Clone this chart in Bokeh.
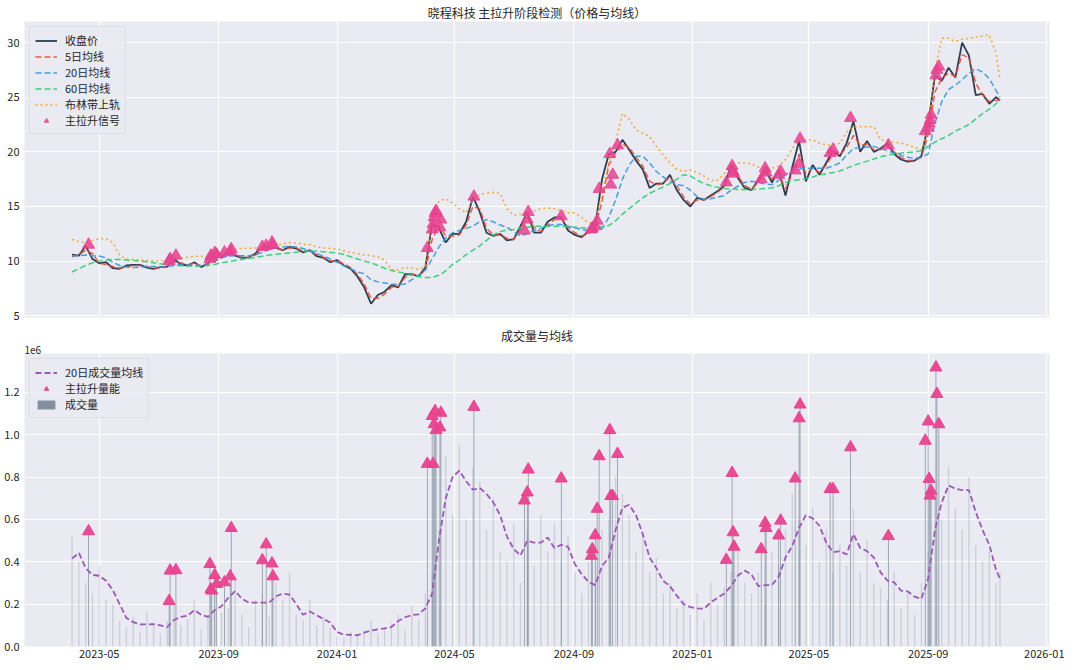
import pandas as pd
from bokeh.plotting import figure
from bokeh.models import (Range1d, FixedTicker, DatetimeTickFormatter, NumeralTickFormatter,
                          Legend, LegendItem, Title)
from bokeh.layouts import column
from bokeh.embed import file_html
from bokeh.resources import INLINE

# ---------------- data (weekly samples) ----------------
week_start = "2023-04-03"
n_weeks = 137
last_day = "2025-11-14"

close = [10.6, 10.5, 11.4, 10.2, 9.8, 9.9, 9.35, 9.3, 9.6, 9.65,
         9.65, 9.4, 9.3, 9.45, 9.5, 10.2, 9.7, 9.6, 9.9, 9.45,
         9.8, 10.5, 10.4, 10.8, 10.5, 10.3, 10.35, 10.7, 11.3, 11.2,
         11.2, 11.0, 11.3, 11.15, 10.8, 11.0, 10.45, 10.3, 9.9, 10.1,
         9.6, 9.3, 8.6, 7.6, 6.1, 6.9, 7.2, 7.8, 7.6, 8.8,
         8.8, 8.6, 9.4, 13.5, 13.0, 11.7, 12.5, 12.5, 13.6, 15.9,
         14.5, 12.6, 12.3, 12.5, 11.9, 12.0, 13.2, 14.5, 12.6, 12.6,
         13.6, 14.0, 14.0, 12.8, 12.4, 12.2, 12.7, 13.2, 17.5, 19.8,
         20.0, 21.1, 20.2, 19.2, 18.4, 16.7, 17.1, 17.1, 17.9, 16.5,
         15.6, 15.0, 15.8, 15.6, 16.0, 16.4, 16.9, 18.8, 17.6, 16.7,
         16.5, 17.4, 18.4, 17.2, 18.3, 16.0, 18.6, 21.0, 17.3, 18.8,
         17.9, 19.0, 20.1, 19.6, 20.8, 22.8, 20.0, 21.0, 20.0, 20.3,
         20.8, 19.8, 19.3, 19.1, 19.2, 19.6, 22.5, 27.0, 26.5, 27.7,
         26.8, 30.0, 28.8, 25.2, 25.3, 24.4, 25.0, 24.7]

ma5 = [10.4, 10.6, 11.0, 10.7, 9.8, 9.7, 9.5, 9.35, 9.45, 9.6,
       9.6, 9.5, 9.35, 9.4, 9.45, 9.9, 9.85, 9.65, 9.8, 9.55,
       9.7, 10.3, 10.4, 10.65, 10.6, 10.35, 10.3, 10.55, 11.1, 11.2,
       11.2, 11.05, 11.2, 11.2, 10.9, 10.95, 10.6, 10.35, 10.0, 10.05,
       9.75, 9.4, 8.8, 7.9, 6.6, 6.6, 7.0, 7.6, 7.7, 8.5,
       8.8, 8.7, 9.1, 12.0, 13.3, 12.3, 12.3, 12.4, 13.3, 15.0,
       14.8, 13.0, 12.4, 12.4, 12.1, 12.0, 12.9, 14.0, 13.1, 12.7,
       13.3, 13.8, 13.9, 13.1, 12.6, 12.3, 12.5, 13.0, 15.5, 18.8,
       19.9, 20.7, 20.4, 19.5, 18.7, 17.3, 17.0, 17.1, 17.7, 16.9,
       15.9, 15.2, 15.6, 15.6, 15.9, 16.3, 16.8, 18.2, 17.8, 16.9,
       16.6, 17.2, 18.1, 17.5, 18.0, 16.6, 18.0, 19.8, 18.0, 18.5,
       18.1, 18.8, 19.8, 19.7, 20.4, 21.5, 20.6, 20.7, 20.2, 20.2,
       20.6, 20.0, 19.5, 19.2, 19.2, 19.5, 21.6, 25.5, 26.7, 27.2,
       26.9, 28.9, 28.6, 26.3, 25.2, 24.6, 24.7, 24.8]

ma20 = [10.46, 10.5, 10.55, 10.5, 10.46, 10.3, 9.9, 9.6, 9.45, 9.41,
        9.45, 9.5, 9.5, 9.45, 9.5, 9.6, 9.7, 9.65, 9.6, 9.6,
        9.8, 10.0, 10.3, 10.46, 10.5, 10.5, 10.5, 10.6, 10.8, 11.05,
        11.2, 11.3, 11.35, 11.3, 11.15, 10.95, 10.7, 10.45, 10.2, 9.9,
        9.6, 9.3, 9.0, 8.85, 8.3, 8.1, 8.0, 7.9, 7.85, 7.9,
        8.3, 8.7, 9.2, 10.2, 11.3, 12.1, 12.6, 12.8, 13.0, 13.2,
        13.6, 13.8, 13.6, 13.3, 13.1, 12.7, 12.3, 12.5, 12.8, 13.0,
        13.25, 13.35, 13.35, 13.2, 13.05, 12.9, 12.75, 12.75, 12.95, 14.0,
        15.6, 17.5, 18.8, 19.6, 19.6, 19.0, 18.2, 17.7, 17.3, 17.0,
        16.9, 16.5, 15.9, 15.65, 15.7, 15.85, 16.0, 16.5, 16.85, 17.2,
        17.3, 17.2, 17.05, 17.0, 17.4, 17.9, 18.3, 18.4, 18.5, 18.5,
        18.5, 18.5, 18.7, 19.0, 19.7, 20.3, 20.4, 20.45, 20.5, 20.3,
        20.1, 19.9, 19.7, 19.5, 19.4, 19.5, 19.8, 22.6, 24.6, 25.7,
        26.1, 26.6, 27.2, 27.6, 27.3, 26.7, 25.6, 25.0]

ma60 = [9.0, 9.3, 9.6, 9.85, 10.0, 10.1, 10.15, 10.15, 10.1, 10.05,
        10.0, 9.95, 9.85, 9.75, 9.68, 9.62, 9.58, 9.55, 9.52, 9.55,
        9.6, 9.7, 9.85, 9.95, 10.05, 10.15, 10.25, 10.35, 10.45, 10.55,
        10.62, 10.68, 10.75, 10.82, 10.9, 10.92, 10.9, 10.85, 10.8, 10.75,
        10.6, 10.4, 10.2, 10.0, 9.85, 9.6, 9.35, 9.15, 9.0, 8.9,
        8.75, 8.6, 8.5, 8.5, 8.7, 9.1, 9.7, 10.1, 10.6, 11.0,
        11.4, 11.9, 12.4, 12.7, 12.85, 12.9, 13.0, 13.1, 13.2, 13.2,
        13.2, 13.2, 13.2, 13.15, 13.1, 13.05, 13.0, 13.05, 13.15, 13.25,
        13.7, 14.3, 14.8, 15.3, 15.8, 16.2, 16.5, 16.8, 17.1, 17.5,
        17.9, 17.8, 17.4, 17.1, 16.9, 16.75, 16.65, 16.6, 16.55, 16.55,
        16.55, 16.6, 16.65, 16.7, 16.9, 17.2, 17.35, 17.45, 17.55, 17.7,
        17.9, 18.0, 18.1, 18.25, 18.5, 18.75, 18.95, 19.15, 19.35, 19.55,
        19.7, 19.8, 19.88, 19.95, 20.0, 20.1, 20.5, 20.9, 21.2, 21.5,
        21.9, 22.2, 22.5, 23.0, 23.5, 23.9, 24.4, 24.75]

boll_upper = [11.98, 11.8, 11.7, 11.9, 12.05, 12.05, 11.7, 10.5, 10.2, 10.16,
              10.1, 10.05, 10.0, 10.0, 10.0, 10.1, 10.25, 10.35, 10.45, 10.45,
              10.35, 10.5, 10.7, 10.85, 11.1, 11.17, 11.17, 11.2, 11.2, 11.25,
              11.4, 11.6, 11.68, 11.65, 11.55, 11.5, 11.3, 11.2, 11.17, 11.1,
              10.95, 10.8, 10.7, 10.56, 10.5, 10.4, 10.1, 9.2, 9.2, 9.4,
              9.35, 9.25, 9.5, 13.8, 15.5, 15.7, 15.33, 14.8, 14.4, 15.6,
              16.1, 16.2, 16.3, 16.2, 14.8, 14.2, 14.3, 14.56, 14.6, 14.8,
              14.87, 14.8, 14.6, 14.45, 14.4, 14.0, 13.5, 13.6, 16.2, 19.0,
              20.9, 23.5, 23.0, 22.0, 21.7, 21.4, 20.5, 19.7, 19.0, 18.4,
              18.2, 18.35, 18.1, 17.8, 17.35, 17.4, 18.0, 18.97, 19.0, 18.97,
              18.9, 18.6, 18.5, 18.5, 18.7, 19.3, 20.3, 21.1, 21.1, 21.1,
              20.8, 20.64, 20.64, 20.8, 21.8, 22.3, 22.3, 22.3, 22.3, 21.1,
              21.0, 20.9, 20.8, 20.64, 20.4, 20.2, 22.0, 27.5, 30.4, 30.4,
              30.1, 30.3, 30.4, 30.5, 30.6, 30.7, 29.0, 26.6]

# volume in units of 1e6 shares
volume = [0.52, 0.40, 0.30, 0.25, 0.38, 0.22, 0.20, 0.12, 0.09, 0.14,
          0.07, 0.16, 0.10, 0.06, 0.12, 0.20, 0.10, 0.13, 0.22, 0.08,
          0.15, 0.25, 0.16, 0.18, 0.33, 0.15, 0.09, 0.22, 0.25, 0.14,
          0.30, 0.22, 0.35, 0.15, 0.12, 0.22, 0.10, 0.14, 0.09, 0.05,
          0.04, 0.07, 0.05, 0.08, 0.12, 0.06, 0.09, 0.11, 0.15, 0.08,
          0.19, 0.13, 0.25, 0.35, 0.55, 0.90, 0.62, 0.95, 0.60, 0.85,
          0.78, 0.55, 0.70, 0.45, 0.40, 0.58, 0.30, 0.55, 0.38, 0.62,
          0.45, 0.58, 0.40, 0.52, 0.35, 0.25, 0.40, 0.30, 0.55, 0.60,
          0.80, 0.72, 0.62, 0.45, 0.52, 0.35, 0.42, 0.25, 0.30, 0.18,
          0.22, 0.15, 0.25, 0.12, 0.30, 0.20, 0.28, 0.35, 0.45, 0.30,
          0.25, 0.35, 0.20, 0.45, 0.38, 0.55, 0.72, 0.60, 0.48, 0.65,
          0.40, 0.55, 0.35, 0.48, 0.38, 0.65, 0.35, 0.50, 0.30, 0.28,
          0.22, 0.35, 0.18, 0.25, 0.15, 0.30, 0.45, 0.70, 0.60, 0.85,
          0.65, 0.55, 0.80, 0.48, 0.40, 0.45, 0.30, 0.35]

vol_ma20 = [0.415, 0.442, 0.37, 0.338, 0.334, 0.31, 0.266, 0.2, 0.135, 0.115,
            0.104, 0.104, 0.106, 0.1, 0.091, 0.125, 0.14, 0.145, 0.172, 0.15,
            0.14, 0.172, 0.19, 0.23, 0.262, 0.225, 0.207, 0.207, 0.207, 0.207,
            0.237, 0.249, 0.245, 0.2, 0.15, 0.165, 0.147, 0.13, 0.113, 0.068,
            0.056, 0.055, 0.053, 0.065, 0.075, 0.081, 0.086, 0.092, 0.12, 0.138,
            0.148, 0.152, 0.18, 0.25, 0.5, 0.7, 0.8, 0.83, 0.78, 0.74,
            0.748, 0.72, 0.68, 0.62, 0.52, 0.46, 0.43, 0.5, 0.49, 0.49,
            0.515, 0.465, 0.48, 0.47, 0.39, 0.342, 0.305, 0.29, 0.38, 0.42,
            0.55, 0.655, 0.669, 0.62, 0.53, 0.42, 0.37, 0.31, 0.285, 0.24,
            0.2, 0.186, 0.18, 0.178, 0.208, 0.23, 0.25, 0.285, 0.335, 0.358,
            0.34, 0.285, 0.29, 0.29, 0.33, 0.42, 0.475, 0.56, 0.62, 0.605,
            0.57, 0.49, 0.445, 0.45, 0.435, 0.53, 0.465, 0.45, 0.42, 0.35,
            0.311, 0.303, 0.264, 0.26, 0.235, 0.225, 0.32, 0.55, 0.68, 0.76,
            0.745, 0.738, 0.738, 0.635, 0.55, 0.48, 0.36, 0.32]

signal_dates = ["2023-04-20", "2023-07-12", "2023-07-13", "2023-07-19",
                "2023-08-23", "2023-08-24", "2023-08-25", "2023-08-28", "2023-08-30",
                "2023-09-07", "2023-09-13", "2023-09-14",
                "2023-10-16", "2023-10-20", "2023-10-26", "2023-10-27",
                "2024-04-03", "2024-04-08", "2024-04-09", "2024-04-10", "2024-04-11",
                "2024-04-12", "2024-04-16", "2024-04-17",
                "2024-05-21",
                "2024-07-12", "2024-07-15", "2024-07-16",
                "2024-08-19",
                "2024-09-19", "2024-09-20", "2024-09-23", "2024-09-25", "2024-09-27",
                "2024-10-08", "2024-10-09", "2024-10-11", "2024-10-16",
                "2025-02-05", "2025-02-11", "2025-02-12", "2025-02-13",
                "2025-03-13", "2025-03-17", "2025-03-18", "2025-03-31", "2025-04-02",
                "2025-04-17", "2025-04-21", "2025-04-22",
                "2025-05-23", "2025-05-26", "2025-06-13", "2025-07-22",
                "2025-08-29", "2025-09-01", "2025-09-02", "2025-09-03", "2025-09-04",
                "2025-09-09", "2025-09-10", "2025-09-12"]

signal_price = [11.5, 10.0, 10.2, 10.5,
                10.2, 10.5, 10.4, 10.75, 10.6,
                10.8, 10.9, 11.1,
                11.3, 11.4, 11.7, 11.5,
                11.2, 12.9, 13.4, 14.0, 14.4,
                14.6, 13.1, 13.8,
                15.9,
                12.8, 13.8, 14.5,
                14.1,
                12.9, 13.0, 13.2, 13.7, 16.6,
                19.8, 17.0, 17.9, 20.6,
                17.2, 18.7, 18.2, 18.0,
                17.5, 18.5, 18.1, 17.9, 18.2,
                18.3, 18.9, 21.2,
                19.9, 20.2, 23.1, 20.6,
                21.9, 22.2, 22.6, 22.9, 23.4,
                27.0, 27.5, 27.8]

signal_volume = [0.544, 0.215, 0.358, 0.360,
                 0.389, 0.270, 0.264, 0.337, 0.295,
                 0.303, 0.331, 0.559,
                 0.407, 0.482, 0.392, 0.331,
                 0.862, 1.088, 0.862, 1.049, 1.111,
                 1.021, 1.034, 1.103,
                 1.131,
                 0.689, 0.727, 0.835,
                 0.793,
                 0.428, 0.459, 0.525, 0.650, 0.898,
                 1.021, 0.710, 0.710, 0.909,
                 0.409, 0.819, 0.539, 0.471,
                 0.459, 0.583, 0.559, 0.524, 0.594,
                 0.793, 1.077, 1.142,
                 0.743, 0.743, 0.940, 0.521,
                 0.971, 1.062, 0.791, 0.712, 0.735,
                 1.317, 1.192, 1.049]

month_ticks = ["2023-05-01", "2023-09-01", "2024-01-01", "2024-05-01", "2024-09-01",
               "2025-01-01", "2025-05-01", "2025-09-01", "2026-01-01"]
price_ticks = [5, 10, 15, 20, 25, 30]
volume_ticks = [0.0, 0.2, 0.4, 0.6, 0.8, 1.0, 1.2]

# ---------------- derived containers ----------------
dates = list(pd.date_range(week_start, periods=n_weeks, freq="7D")) + [pd.Timestamp(last_day)]
sig_dates = [pd.Timestamp(d) for d in signal_dates]
tick_ms = [pd.Timestamp(t).value // 10**6 for t in month_ticks]
DAY = 86400000

FONT = "Noto Sans CJK SC"
BG = "#EAEAF2"
TXT = "#262626"
PINK = "#E8438F"

x_range = Range1d(pd.Timestamp("2023-02-13"), pd.Timestamp("2026-01-04"))
fmt = DatetimeTickFormatter(days="%Y-%m", months="%Y-%m", years="%Y-%m")


def style(p, yticks, yfmt):
    p.background_fill_color = BG
    p.border_fill_color = "white"
    p.outline_line_color = None
    p.xgrid.ticker = FixedTicker(ticks=tick_ms)
    p.ygrid.ticker = FixedTicker(ticks=yticks)
    for g in (p.xgrid, p.ygrid):
        g.grid_line_color = "white"
        g.grid_line_width = 1.2
    p.xaxis.ticker = FixedTicker(ticks=tick_ms)
    p.yaxis.ticker = FixedTicker(ticks=yticks)
    p.yaxis.formatter = NumeralTickFormatter(format=yfmt)
    for ax in (p.xaxis, p.yaxis):
        ax.axis_line_color = None
        ax.major_tick_line_color = None
        ax.minor_tick_line_color = None
        ax.major_tick_out = 0
        ax.major_tick_in = 0
        ax.minor_tick_out = 0
        ax.minor_tick_in = 0
        ax.major_label_text_font = FONT
        ax.major_label_text_font_size = "11px"
        ax.major_label_text_color = TXT
        ax.major_label_standoff = 5


def make_title(text, size, align, standoff):
    return Title(text=text, text_font=FONT, text_font_size=size, text_font_style="normal",
                 text_color=TXT, align=align, standoff=standoff)


def style_legend(lg):
    lg.location = "top_left"
    lg.label_text_font = FONT
    lg.label_text_font_size = "11px"
    lg.label_text_color = TXT
    lg.glyph_width = 22
    lg.glyph_height = 11
    lg.label_height = 11
    lg.label_standoff = 8
    lg.spacing = 0
    lg.padding = 5
    lg.margin = 5
    lg.background_fill_color = BG
    lg.background_fill_alpha = 0.85
    lg.border_line_color = "#D2D2DA"


# ---------------- top panel: price ----------------
p1 = figure(width=1064, height=324, x_range=x_range, y_range=Range1d(4.84, 31.93),
            x_axis_type="datetime", output_backend="svg", toolbar_location=None,
            title=make_title("晓程科技 主拉升阶段检测（价格与均线）", "12px", "center", 2),
            min_border_left=24, min_border_right=15, min_border_top=14, min_border_bottom=7)
style(p1, price_ticks, "0")
p1.xaxis.visible = False

p1.line(dates, close, color="#2C3E50", line_width=1.8, legend_label="收盘价")
p1.line(dates, ma5, color="#E74C3C", line_width=1.5, line_dash="6 3", line_alpha=0.9, legend_label="5日均线")
p1.line(dates, ma20, color="#3498DB", line_width=1.5, line_dash="6 3", line_alpha=0.9, legend_label="20日均线")
p1.line(dates, ma60, color="#2ECC71", line_width=1.5, line_dash="6 3", line_alpha=0.9, legend_label="60日均线")
p1.line(dates, boll_upper, color="#F39C12", line_width=1.5, line_dash="2 3", line_alpha=0.85, legend_label="布林带上轨")
p1.scatter(sig_dates, signal_price, marker="triangle", size=12, fill_color=PINK, line_color=PINK,
           fill_alpha=0.85, line_alpha=0.85, legend_label="主拉升信号")
style_legend(p1.legend[0])

# ---------------- bottom panel: volume ----------------
p2 = figure(width=1064, height=337, x_range=x_range, y_range=Range1d(0, 1.383),
            x_axis_type="datetime", output_backend="svg", toolbar_location=None,
            title=None,
            min_border_left=24, min_border_right=15, min_border_top=0, min_border_bottom=15)
style(p2, volume_ticks, "0.0")
p2.xaxis.formatter = fmt
p2.xaxis.major_label_standoff = 3
# offset text of the volume axis (closest to the frame), then the panel title above it
p2.add_layout(make_title("1e6", "10px", "left", 0), "above")
p2.add_layout(make_title("成交量与均线", "12px", "center", 0), "above")

bars = p2.vbar(x=dates, top=volume, width=1.4 * DAY, fill_color="#708090", fill_alpha=0.25, line_color=None)
sig_bars = p2.vbar(x=sig_dates, top=signal_volume, width=0.8 * DAY, fill_color="#708090",
                   fill_alpha=0.8, line_color=None)
vma = p2.line(dates, vol_ma20, color="#9B59B6", line_width=1.8, line_dash="6 3")
tri = p2.scatter(sig_dates, signal_volume, marker="triangle", size=12, fill_color=PINK,
                 line_color=PINK, fill_alpha=0.95)

legend2 = Legend(items=[LegendItem(label="20日成交量均线", renderers=[vma]),
                        LegendItem(label="主拉升量能", renderers=[tri]),
                        LegendItem(label="成交量", renderers=[sig_bars, bars])])
style_legend(legend2)
p2.add_layout(legend2)

layout = column(p1, p2, spacing=0)
open("out.html", "w").write(file_html(layout, INLINE))
